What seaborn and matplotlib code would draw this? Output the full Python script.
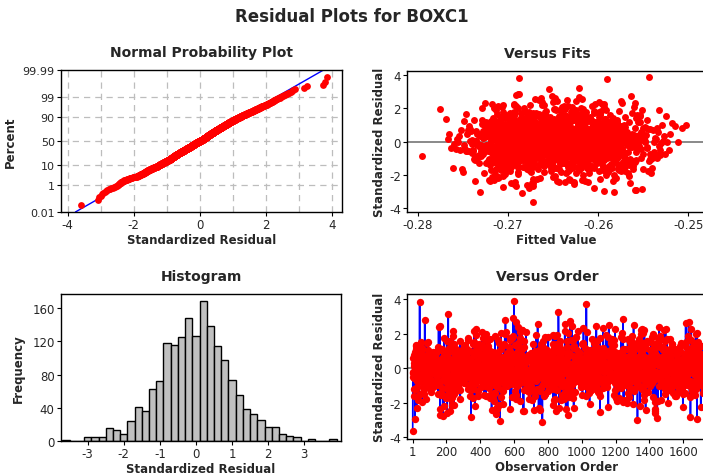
import numpy as np
import pandas as pd
import matplotlib
matplotlib.use("Agg")
import matplotlib.pyplot as plt
import seaborn as sns
from statistics import NormalDist

# ---------------- data ----------------
# Histogram of standardized residuals: bin centres (width 0.2) and counts
hist_centers = [-3.6, -3.4, -3.2, -3.0, -2.8, -2.6, -2.4, -2.2, -2.0, -1.8,
                -1.6, -1.4, -1.2, -1.0, -0.8, -0.6, -0.4, -0.2, 0.0, 0.2,
                0.4, 0.6, 0.8, 1.0, 1.2, 1.4, 1.6, 1.8, 2.0, 2.2,
                2.4, 2.6, 2.8, 3.0, 3.2, 3.4, 3.6, 3.8]
hist_counts = [1, 0, 0, 5, 5, 5, 16, 13, 9, 24,
               41, 36, 63, 72, 118, 115, 125, 148, 126, 168,
               139, 114, 98, 74, 55, 39, 33, 25, 17, 17,
               9, 6, 5, 0, 2, 0, 0, 3]
bin_width = 0.2

# Distribution of fitted values (bin centres, width 0.001) read from "Versus Fits"
fit_centers = [-0.2795, -0.2785, -0.2775, -0.2765, -0.2755, -0.2745, -0.2735,
               -0.2725, -0.2715, -0.2705, -0.2695, -0.2685, -0.2675, -0.2665,
               -0.2655, -0.2645, -0.2635, -0.2625, -0.2615, -0.2605, -0.2595,
               -0.2585, -0.2575, -0.2565, -0.2555, -0.2545, -0.2535, -0.2525,
               -0.2515, -0.2505]
fit_counts = [1, 0, 1, 5, 8, 15, 25, 45, 80, 110, 120, 125, 120, 112,
              103, 100, 95, 95, 95, 100, 96, 85, 65, 45, 35, 22, 15, 8, 3, 2]
fit_width = 0.001

prob_ticks = [0.01, 1, 10, 50, 90, 99, 99.99]
order_ticks = [1, 200, 400, 600, 800, 1000, 1200, 1400, 1600]

# ---------------- build residual / fitted lists from the read distributions ----
resid_sorted = []
for c, k in zip(hist_centers, hist_counts):
    lo = c - bin_width / 2
    for j in range(k):
        resid_sorted.append(lo + (j + 0.5) / k * bin_width)
resid_sorted = np.array(resid_sorted)
n = len(resid_sorted)

fc = np.array(fit_counts, float)
edges_f = np.concatenate([[fit_centers[0] - fit_width / 2],
                          np.array(fit_centers) + fit_width / 2])
cdf = np.concatenate([[0], np.cumsum(fc) / fc.sum()])
fit_sorted = np.interp((np.arange(n) + 0.5) / n, cdf, edges_f)

# deterministic (non-random) cubic Weyl interleaving of the sorted values
obs = np.arange(n, dtype=float)
u = (obs ** 3 * 0.41421356237 + obs ** 2 * 0.7071067811865 + obs * 0.6180339887) % 1.0
v = (obs ** 3 * 0.23606797749 + obs ** 2 * 0.8660254037844 + obs * 0.3183098861 + 0.37) % 1.0
resid = resid_sorted[np.argsort(np.argsort(u))]
fitted = fit_sorted[np.argsort(np.argsort(v))]
order = np.arange(1, n + 1)

df = pd.DataFrame({"resid": resid, "fitted": fitted, "order": order})

nd = NormalDist()
pp = (np.arange(1, n + 1) - 0.3) / (n + 0.4)
zq = np.array([nd.inv_cdf(p) for p in pp])
mu, sd = resid.mean(), resid.std(ddof=1)

# ---------------- figure ----------------
sns.set_style("white")
plt.rcParams["font.family"] = ["DejaVu Sans"]
W, H = 703, 477
fig = plt.figure(figsize=(W / 100, H / 100), dpi=100)

def rect(l, t, r, b):
    return [l / W, 1 - b / H, (r - l) / W, (b - t) / H]

tick_fs = 8.5
lab_fs = 8.5
tit_fs = 10

def style(ax):
    for s in ax.spines.values():
        s.set_color("black")
        s.set_linewidth(1.0)
    ax.tick_params(axis="both", which="major", direction="out", length=3,
                   width=0.8, color="black", labelsize=tick_fs, pad=1.5,
                   bottom=True, left=True)

red = "#FF0000"

# Normal probability plot
ax1 = fig.add_axes(rect(61, 71, 342, 213))
zlim = -nd.inv_cdf(0.0001)
ax1.set_xlim(-4.2, 4.31)
for gx in range(-4, 5):
    ax1.axvline(gx, color="#BDBDBD", lw=0.9, ls=(0, (5, 4)), zorder=0)
for p in prob_ticks[1:-1]:
    ax1.axhline(nd.inv_cdf(p / 100), color="#BDBDBD", lw=0.9, ls=(0, (5, 4)), zorder=0)
xl = np.array([mu - zlim * sd, mu + zlim * sd])
ax1.plot(xl, (xl - mu) / sd, color="#0000FF", lw=1.0, zorder=2)
sns.scatterplot(x=resid_sorted, y=zq, ax=ax1, color=red, s=24, linewidth=0,
                zorder=3, clip_on=False)
ax1.set_ylim(-zlim, zlim)
ax1.set_yticks([nd.inv_cdf(p / 100) for p in prob_ticks])
ax1.set_yticklabels([("%g" % p) for p in prob_ticks])
ax1.set_xticks([-4, -2, 0, 2, 4])
ax1.set_xticklabels(["-4", "-2", "0", "2", "4"])
style(ax1)
ax1.tick_params(axis="y", labelsize=8)
ax1.set_title("Normal Probability Plot", fontsize=tit_fs, fontweight="bold", pad=10)
ax1.set_xlabel("Standardized Residual", fontsize=lab_fs, fontweight="bold", labelpad=1)
ax1.set_ylabel("Percent", fontsize=lab_fs, fontweight="bold")
ax1.yaxis.set_label_coords((17 - 61) / 281, 0.5)

# Versus fits
ax2 = fig.add_axes(rect(407, 72, 706, 213))
ax2.set_xlim(-0.2812, -0.24804)
ax2.set_ylim(-4.22, 4.24)
ax2.axhline(0, color="#808080", lw=1.3, zorder=1)
sns.scatterplot(data=df, x="fitted", y="resid", ax=ax2, color=red, s=25,
                linewidth=0, zorder=3)
ax2.set_xticks([-0.28, -0.27, -0.26, -0.25])
ax2.set_xticklabels(["-0.28", "-0.27", "-0.26", "-0.25"])
ax2.set_yticks([-4, -2, 0, 2, 4])
ax2.set_yticklabels(["-4", "-2", "0", "2", "4"])
style(ax2)
ax2.spines["right"].set_visible(False)
ax2.set_title("Versus Fits", fontsize=tit_fs, fontweight="bold", pad=10, x=0.47)
ax2.set_xlabel("Fitted Value", fontsize=lab_fs, fontweight="bold", labelpad=1)
ax2.set_ylabel("Standardized Residual", fontsize=lab_fs, fontweight="bold", labelpad=2)

# Histogram
ax3 = fig.add_axes(rect(61, 295, 341, 442))
edges = np.round(np.arange(-3.7, 3.9 + 1e-9, bin_width), 6)
sns.histplot(x=resid_sorted, bins=edges, ax=ax3, color="#C0C0C0", alpha=1,
             edgecolor="black", linewidth=1.0)
ax3.set_xlim(-3.74, 4.02)
ax3.set_ylim(0, 177)
ax3.set_xticks([-3, -2, -1, 0, 1, 2, 3])
ax3.set_xticklabels(["-3", "-2", "-1", "0", "1", "2", "3"])
ax3.set_yticks([0, 40, 80, 120, 160])
style(ax3)
ax3.set_title("Histogram", fontsize=tit_fs, fontweight="bold", pad=10)
ax3.set_xlabel("Standardized Residual", fontsize=lab_fs, fontweight="bold", labelpad=1)
ax3.set_ylabel("Frequency", fontsize=lab_fs, fontweight="bold")
ax3.yaxis.set_label_coords((25 - 61) / 280, 0.5)

# Versus order
ax4 = fig.add_axes(rect(407, 295, 706, 440))
ax4.set_xlim(-32.7, 1734)
ax4.set_ylim(-4.09, 4.29)
ax4.axhline(0, color="#808080", lw=1.3, zorder=1)
sns.lineplot(data=df, x="order", y="resid", ax=ax4, color="#0000FF", lw=1.2,
             sort=False, estimator=None, zorder=2)
sns.scatterplot(data=df, x="order", y="resid", ax=ax4, color=red, s=28,
                linewidth=0, zorder=3)
ax4.set_xticks(order_ticks)
ax4.set_xticklabels([str(t) for t in order_ticks])
ax4.set_yticks([-4, -2, 0, 2, 4])
ax4.set_yticklabels(["-4", "-2", "0", "2", "4"])
style(ax4)
ax4.spines["right"].set_visible(False)
ax4.set_title("Versus Order", fontsize=tit_fs, fontweight="bold", pad=10, x=0.47)
ax4.set_xlabel("Observation Order", fontsize=lab_fs, fontweight="bold", labelpad=1)
ax4.set_ylabel("Standardized Residual", fontsize=lab_fs, fontweight="bold", labelpad=2)

fig.text(0.5, 1 - 17 / H, "Residual Plots for BOXC1", ha="center", va="center",
         fontsize=12, fontweight="bold")

fig.savefig("out.png", dpi=100, facecolor="white")
